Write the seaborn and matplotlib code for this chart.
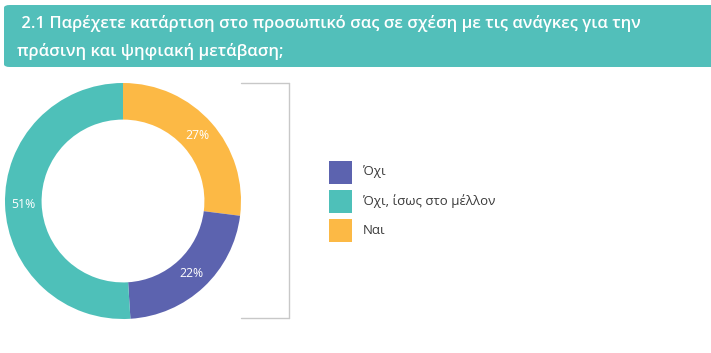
import matplotlib
matplotlib.use('Agg')
import matplotlib.pyplot as plt
from matplotlib.patches import FancyBboxPatch, Rectangle
from matplotlib.lines import Line2D
import seaborn as sns

sns.set_theme(style='white')
plt.rcParams['font.family'] = ['Open Sans', 'DejaVu Sans']

# data
title_lines = [' 2.1 Παρέχετε κατάρτιση στο προσωπικό σας σε σχέση με τις ανάγκες για την',
               'πράσινη και ψηφιακή μετάβαση;']
labels = ['Όχι', 'Όχι, ίσως στο μέλλον', 'Ναι']
shares = [22, 51, 27]
palette = sns.color_palette(['#5C63AF', '#4EC0B9', '#FCB945'])

W, H = 711, 353
fig = plt.figure(figsize=(W / 100, H / 100), dpi=100)
fig.patch.set_facecolor('white')

def fx(px):
    return px / W

def fy(py):
    return 1 - py / H

# header band
hdr = FancyBboxPatch((fx(4), fy(67)), fx(720), fy(5) - fy(67),
                     boxstyle='round,pad=0,rounding_size=0.008',
                     transform=fig.transFigure, facecolor='#52BFBA',
                     edgecolor='none')
fig.patches.append(hdr)
fig.text(fx(17), fy(24), title_lines[0], color='white', fontsize=12,
         fontweight='semibold', va='center', ha='left')
fig.text(fx(17), fy(52), title_lines[1], color='white', fontsize=12,
         fontweight='semibold', va='center', ha='left')

# donut: drawn clockwise from 12 o'clock: Ναι, Όχι, Όχι ίσως
order = [2, 0, 1]
ax = fig.add_axes([fx(5), fy(319), fx(236), fy(83) - fy(319)])
wedges, texts, autotexts = ax.pie(
    [shares[i] for i in order],
    colors=[palette[i] for i in order],
    startangle=90, counterclock=False,
    wedgeprops=dict(width=0.31, linewidth=0),
    autopct='%d%%', pctdistance=0.845,
    textprops=dict(color='white', fontsize=8.8))
ax.set_aspect('equal')
ax.set_xlim(-1, 1)
ax.set_ylim(-1, 1)
ax.axis('off')

# bracket
grey = '#C8C8C8'
for seg in [([fx(241), fx(289)], [fy(83), fy(83)]),
            ([fx(289), fx(289)], [fy(83), fy(318)]),
            ([fx(241), fx(289)], [fy(318), fy(318)])]:
    fig.add_artist(Line2D(seg[0], seg[1], color=grey, lw=1,
                          transform=fig.transFigure))

# legend
for i, (lab, col) in enumerate(zip(labels, palette)):
    yc = 172 + i * 29
    fig.patches.append(Rectangle((fx(329), fy(yc + 11.5)), fx(23), fy(yc - 11.5) - fy(yc + 11.5),
                                 transform=fig.transFigure, facecolor=col,
                                 edgecolor='none'))
    fig.text(fx(363), fy(yc), lab, color='#3A3A3A', fontsize=9.5,
             va='center', ha='left')

fig.savefig('out.png', dpi=100, facecolor='white')
